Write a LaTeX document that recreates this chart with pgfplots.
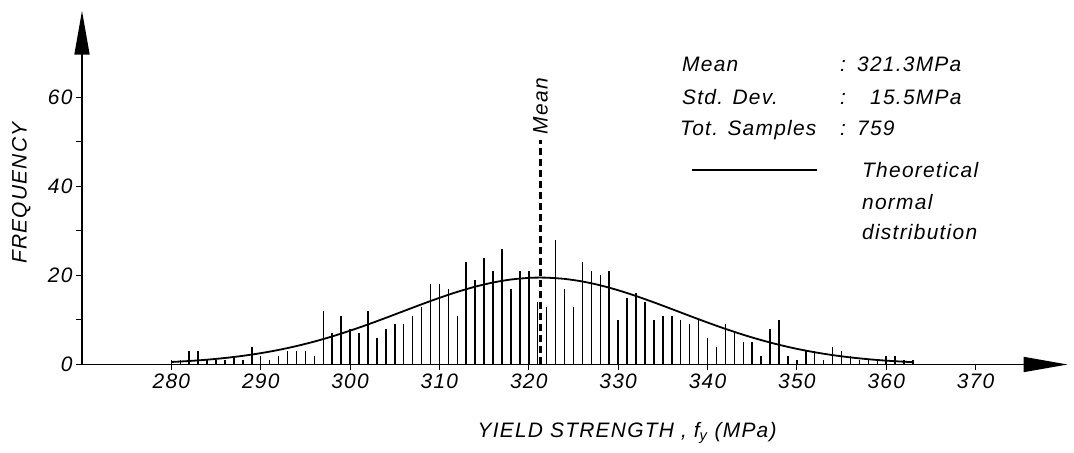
\documentclass[border=0pt]{standalone}
\usepackage{pgfplots}
\pgfplotsset{compat=1.18}
\usepackage{fontspec}
\setmainfont{Liberation Sans}[LetterSpace=6]
\usetikzlibrary{arrows.meta}

\pgfplotstableread{
x y
280 1
281 1
282 3
283 3
284 1
285 1
286 1
287 2
288 1
289 4
290 2
291 1
292 2
293 3
294 3
295 3
296 2
297 12
298 7
299 11
300 8
301 7
302 12
303 6
304 8
305 9
306 9
307 11
308 13
309 18
310 18
311 17
312 11
313 23
314 19
315 24
316 21
317 26
318 17
319 21
320 21
321 14
322 13
323 28
324 17
325 13
326 23
327 21
328 20
329 21
330 10
331 15
332 16
333 14
334 10
335 11
336 11
337 10
338 9
339 10
340 6
341 4
342 9
343 7
344 5
345 5
346 2
347 8
348 10
349 2
350 1
351 3
352 3
353 1
354 4
355 3
356 2
357 1
358 1
359 1
360 2
361 2
362 1
363 1
}\freqdata

\newcommand\lbl{\fontsize{21}{23}\selectfont\itshape}

\begin{document}
\begin{tikzpicture}[x=1bp,y=1bp]
\path[use as bounding box] (0,0) rectangle (1074,453);
\begin{axis}[
  at={(82bp,88.5bp)}, anchor=south west,
  scale only axis, width=985.6bp, height=353.8bp,
  xmin=270, xmax=380.3, ymin=0, ymax=79.5,
  enlargelimits=false, clip=false,
  axis x line=bottom, axis y line=left,
  axis line style={line width=1.6bp, -{Triangle[length=44bp,width=15bp]}},
  xtick={280,290,...,370}, ytick={0,20,40,60}, minor ytick={10,30,50},
  tick style={black, line width=1bp}, major tick length=6bp, minor tick length=6bp,
  tick align=outside,
  ticklabel style={font=\lbl},
  /pgf/number format/assume math mode=true,
  xlabel={YIELD STRENGTH , f\textsubscript{y} (MPa)},
  ylabel={FREQUENCY},
  label style={font=\lbl},
  xlabel style={at={(axis cs:331,-15.4)}, anchor=center},
  ylabel style={at={(axis cs:263.2,38.5)}, anchor=center},
]
\addplot[ycomb, black, line width=1.5bp, mark=none] table[x=x,y=y] {\freqdata};
\addplot[smooth, black, line width=1.8bp, mark=none] coordinates {
(280,0.561) (282,0.785) (284,1.079) (286,1.461) (288,1.943) (290,2.543)
(292,3.272) (294,4.141) (296,5.154) (298,6.310) (300,7.597) (302,8.996)
(304,10.476) (306,11.999) (308,13.515) (310,14.973) (312,16.313) (314,17.480)
(316,18.421) (318,19.092) (320,19.461) (321.3,19.53) (322,19.510) (324,19.236)
(326,18.653) (328,17.788) (330,16.684) (332,15.389) (334,13.961) (336,12.457)
(338,10.930) (340,9.433) (342,8.006) (344,6.683) (346,5.486) (348,4.429)
(350,3.517) (352,2.747) (354,2.110) (356,1.593) (358,1.184) (360,0.865)
(362,0.621) (363,0.524)};
\addplot[black, line width=2.2bp, dash pattern=on 7bp off 4bp, mark=none] coordinates {(321.3,0) (321.3,50.5)};
\node[rotate=90, anchor=west, font=\lbl, inner sep=1bp] at (axis cs:321.3,51.5) {Mean};
\end{axis}
\begin{scope}[every node/.style={font=\lbl, inner sep=0pt, anchor=base west}]
\node at (682,381) {Mean};
\node at (840,381) {:};
\node at (857,381) {321.3MPa};
\node at (682,348) {Std. Dev.};
\node at (840,348) {:};
\node at (870,348) {15.5MPa};
\node at (680,317) {Tot. Samples};
\node at (840,317) {:};
\node at (857,317) {759};
\draw[line width=1.5bp] (692,283) -- (817,283);
\node at (862,275) {Theoretical};
\node at (862,243) {normal};
\node at (862,213) {distribution};
\end{scope}
\end{tikzpicture}
\end{document}
